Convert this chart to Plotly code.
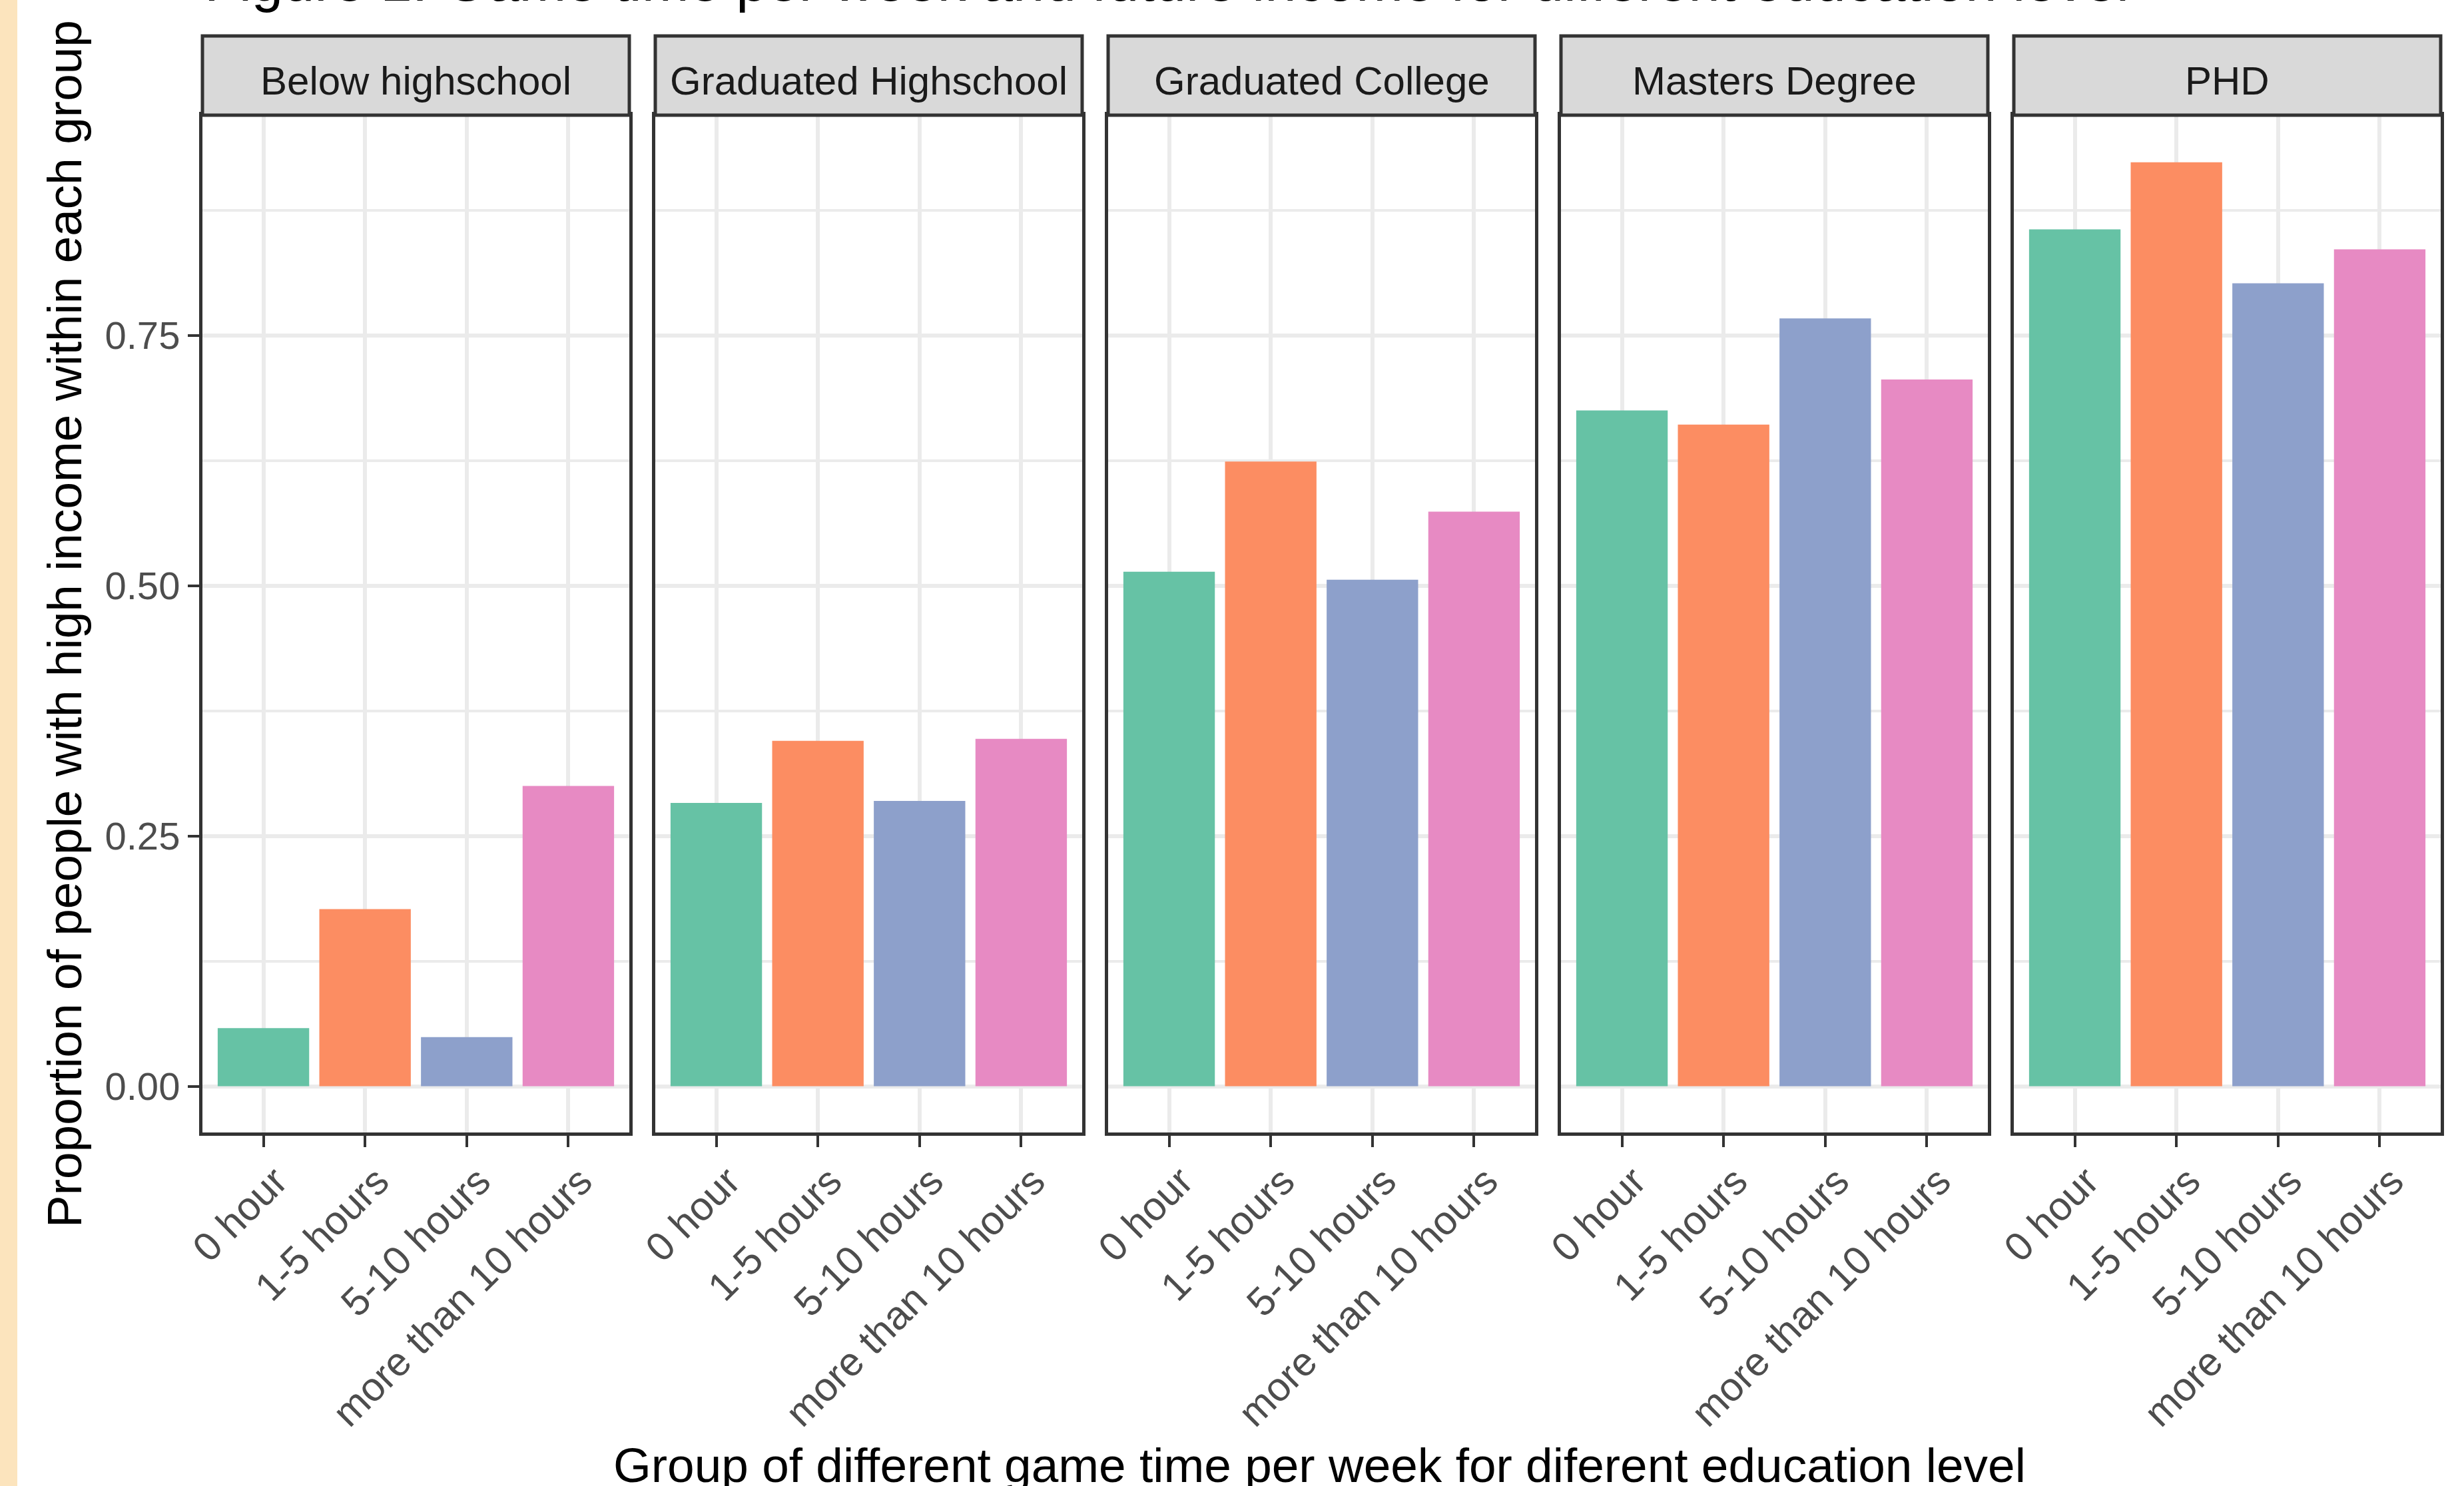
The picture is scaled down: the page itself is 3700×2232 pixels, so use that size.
import plotly.graph_objects as go

# ---- data ----
categories = ["0 hour", "1-5 hours", "5-10 hours", "more than 10 hours"]
education_levels = ["Below highschool", "Graduated Highschool", "Graduated College",
                    "Masters Degree", "PHD"]
below_highschool = [0.058, 0.177, 0.049, 0.300]
graduated_highschool = [0.283, 0.345, 0.285, 0.347]
graduated_college = [0.514, 0.624, 0.506, 0.574]
masters_degree = [0.675, 0.661, 0.767, 0.706]
phd = [0.856, 0.923, 0.802, 0.836]
series = [below_highschool, graduated_highschool, graduated_college, masters_degree, phd]

y_tickvals = [0.0, 0.25, 0.50, 0.75]
y_ticktext = ["0.00", "0.25", "0.50", "0.75"]
y_minor = [0.125, 0.375, 0.625, 0.875]

title_text = "Figure 1: Game time per week and future income for different education level"
x_title = "Group of different game time per week for diferent education level"
y_title = "Proportion of people with high income within each group"

colors = ["#66C2A5", "#FC8D62", "#8DA0CB", "#E78AC3"]

# ---- layout geometry (pixels) ----
W, H = 3700, 2232
FONT = "Liberation Sans, Arial, sans-serif"
def px(x):
    return x / W
def py(y):
    return 1 - y / H

panel_left0 = 304
pitch = 680
panel_w = 641
panel_top = 173
panel_bottom = 1701
strip_top = 54

fig = go.Figure()
layout = dict(
    width=W, height=H, autosize=False,
    margin=dict(l=0, r=0, t=0, b=0, pad=0, autoexpand=False),
    paper_bgcolor="white", plot_bgcolor="white",
    showlegend=False, bargap=0.1,
    font=dict(family=FONT),
)
shapes = []
annotations = []

# left decorative strip
shapes.append(dict(type="rect", xref="paper", yref="paper", x0=0, x1=px(26), y0=0, y1=1,
                   fillcolor="#FCE4BD", line=dict(width=0), layer="below"))

for i, (edu, vals) in enumerate(zip(education_levels, series)):
    n = i + 1
    xa = "x" if n == 1 else f"x{n}"
    ya = "y" if n == 1 else f"y{n}"
    left = panel_left0 + i * pitch
    right = left + panel_w
    fig.add_trace(go.Bar(x=categories, y=vals, marker=dict(color=colors, line=dict(width=0)),
                         xaxis=xa, yaxis=ya, width=0.9, hoverinfo="x+y"))
    layout[f"xaxis{'' if n == 1 else n}"] = dict(
        domain=[px(left), px(right)], anchor=ya, type="category", automargin=False,
        categoryorder="array", categoryarray=categories, range=[-0.6, 3.6],
        showline=True, mirror=True, linecolor="#333333", linewidth=5,
        ticks="outside", ticklen=17, tickwidth=4, tickcolor="#333333",
        tickangle=-45, tickfont=dict(size=60, color="#4D4D4D", family=FONT),
        ticklabelshift=18, ticklabelstandoff=-8,
        showgrid=True, gridcolor="#EBEBEB", gridwidth=6, zeroline=False,
    )
    ydict = dict(
        domain=[py(panel_bottom), py(panel_top)], anchor=xa, automargin=False,
        range=[-0.0462, 0.970], tickmode="array", tickvals=y_tickvals,
        ticktext=y_ticktext,
        showline=True, mirror=True, linecolor="#333333", linewidth=5,
        showgrid=True, gridcolor="#EBEBEB", gridwidth=6, zeroline=False,
        minor=dict(tickmode="array", tickvals=y_minor, showgrid=True,
                   gridcolor="#EBEBEB", gridwidth=3.5, ticks=""),
    )
    if n == 1:
        ydict.update(ticks="outside", ticklen=17, tickwidth=4, tickcolor="#333333",
                     showticklabels=True,
                     tickfont=dict(size=58, color="#4D4D4D", family=FONT))
    else:
        ydict.update(ticks="", showticklabels=False)
    layout[f"yaxis{'' if n == 1 else n}"] = ydict

    # facet strip
    shapes.append(dict(type="rect", xref="paper", yref="paper",
                       x0=px(left), x1=px(right), y0=py(panel_top), y1=py(strip_top),
                       fillcolor="#D9D9D9", line=dict(color="#333333", width=5),
                       layer="above"))
    annotations.append(dict(text=edu, xref="paper", yref="paper",
                            x=px((left + right) / 2), y=py(121),
                            xanchor="center", yanchor="middle", showarrow=False,
                            font=dict(size=60, color="#1A1A1A", family=FONT)))

# axis titles
annotations.append(dict(text=y_title, xref="paper", yref="paper",
                        x=px(96), y=py((panel_top + panel_bottom) / 2),
                        xanchor="center", yanchor="middle", textangle=-90,
                        showarrow=False, font=dict(size=73, color="black", family=FONT)))
annotations.append(dict(text=x_title, xref="paper", yref="paper",
                        x=px(1982), y=py(2200), xanchor="center", yanchor="middle",
                        showarrow=False, font=dict(size=73, color="black", family=FONT)))
# title (mostly cut off at the top in the reference)
annotations.append(dict(text=title_text, xref="paper", yref="paper",
                        x=px(305), y=py(-28), xanchor="left", yanchor="middle",
                        showarrow=False, font=dict(size=85, color="black", family=FONT)))

layout["shapes"] = shapes
layout["annotations"] = annotations
fig.update_layout(**layout)
fig.write_html("out.html")
